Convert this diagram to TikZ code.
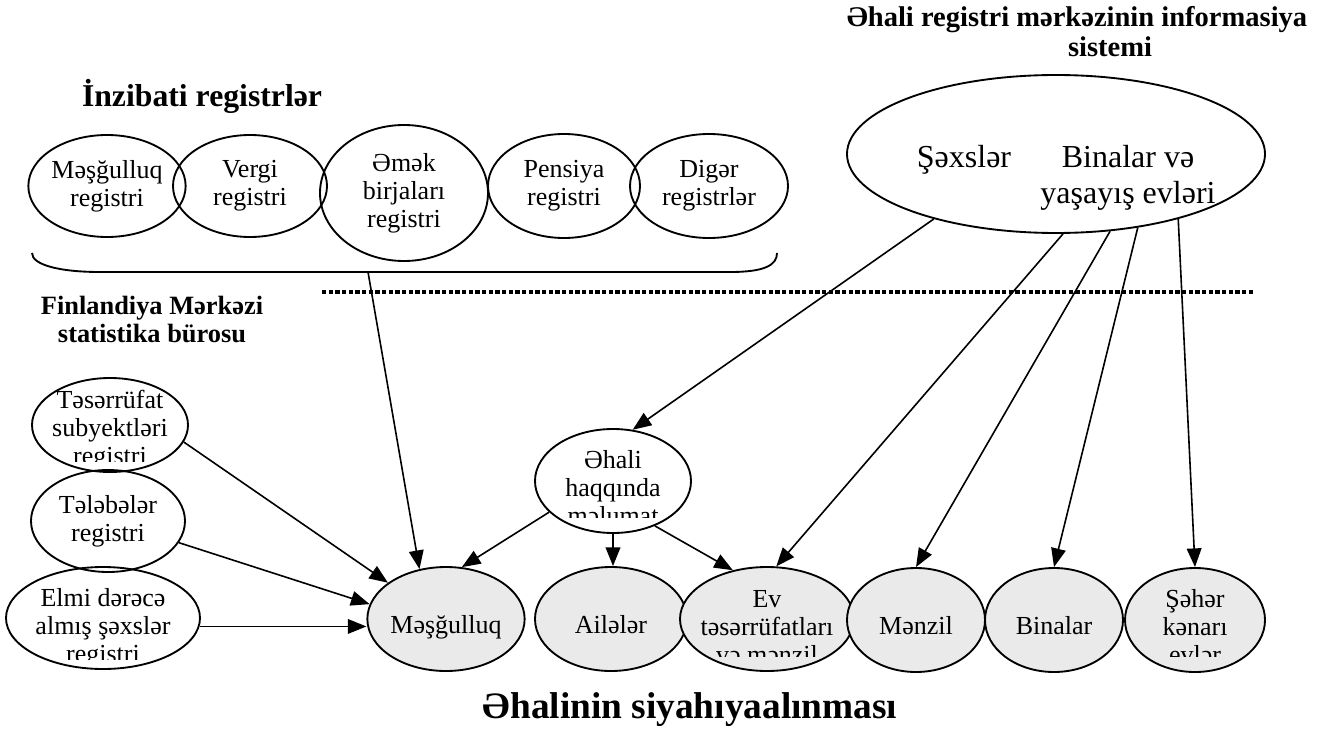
\documentclass[tikz,border=0pt]{standalone}
\usepackage{fontspec}
\setmainfont{Liberation Serif}
\usetikzlibrary{shapes.geometric,arrows.meta}
\definecolor{cengray}{HTML}{EAEAEA}
\newcommand{\regfont}{\fontsize{19.5}{21}\selectfont}
\newcommand{\bigfont}{\fontsize{24}{26.5}\selectfont}
\tikzset{
  reg/.style={draw, ellipse, line width=1.4pt, inner sep=0pt, align=center, font=\regfont},
  cen/.style={reg, fill=cengray},
  lowtext/.style={text height=21pt, text depth=0pt},
  regtext/.style={align=center, font=\regfont, inner sep=0pt},
  arr/.style={-{Triangle[length=14pt,width=11pt]}, line width=1.2pt},
}

\begin{document}
\begin{tikzpicture}[x=0.75pt, y=-0.75pt]
  \useasboundingbox (0,0) rectangle (1341,731);

  % titles
  \node[name=admt, anchor=base, font=\bfseries\fontsize{23.8}{27}\selectfont] at (202,107) {İnzibati registrlər};
  \node[name=armt, anchor=base, font=\bfseries\fontsize{21.4}{24}\selectfont] at (1077,27) {Əhali registri mərkəzinin informasiya};
  \node[name=armt2, anchor=base, font=\bfseries\fontsize{21.4}{24}\selectfont] at (1110,57) {sistemi};
  \node[name=fint, align=center, font=\bfseries\fontsize{19.8}{21}\selectfont] at (152,320) {Finlandiya Mərkəzi\\statistika bürosu};
  \node[name=cent, anchor=base, font=\bfseries\fontsize{28}{32}\selectfont] at (690,718) {Əhalinin siyahıyaalınması};

  % administrative registers
  \node[name=mreg, reg, minimum width=112.5pt, minimum height=76.5pt] at (107,186) {Məşğulluq\\registri};
  \node[name=vreg, reg, minimum width=115.5pt, minimum height=76.5pt] at (250,186) {Vergi\\registri};
  \node[name=emek, reg, minimum width=126pt, minimum height=102pt] at (404,193) {Əmək\\birjaları\\registri};
  \node[name=preg, reg, minimum width=114pt, minimum height=78pt] at (564,186) {Pensiya\\registri};
  \node[name=dreg, reg, minimum width=118.5pt, minimum height=78pt] at (709,186) {Digər\\registrlər};
  \draw[line width=1.4pt] (32,253) .. controls (32,265) and (60,272) .. (100,272) -- (730,272)
    .. controls (765,272) and (777,265) .. (777,253);
  \coordinate (brc) at (368,272);

  \draw[line width=3pt, dash pattern=on 3.2pt off 1.8pt] (322,292) -- (1255,292);

  % population register centre
  \node[name=arm, reg, minimum width=313.5pt, minimum height=118.5pt] at (1056,154) {};
  \node[name=sxs, anchor=base, font=\bigfont] at (964,167) {Şəxslər};
  \node[name=bye, align=center, font=\bigfont, inner sep=0pt] at (1128,178) {Binalar və\\yaşayış evləri};

  % statistics office registers
  \node[name=tsr, reg, minimum width=117pt, minimum height=70.5pt] at (110,425) {};
  \node[name=tlb, reg, minimum width=115.5pt, minimum height=76.5pt] at (108,521) {Tələbələr\\registri};
  \node[name=elm, reg, minimum width=145.5pt, minimum height=76.5pt] at (103,618) {};
  \node[name=ehm, reg, minimum width=117pt, minimum height=78pt] at (613,481) {};

  % census
  \node[name=mesg, cen, lowtext, minimum width=117pt, minimum height=78pt] at (446,619) {Məşğulluq};
  \node[name=ail, cen, lowtext, minimum width=114pt, minimum height=78pt] at (611,619) {Ailələr};
  \node[name=ev, cen, minimum width=130.5pt, minimum height=78pt] at (767,619) {};
  \node[name=menz, cen, lowtext, minimum width=103.5pt, minimum height=78pt] at (916,620) {Mənzil};
  \node[name=bin, cen, lowtext, minimum width=103.5pt, minimum height=78pt] at (1054,620) {Binalar};
  \node[name=seh, cen, minimum width=105pt, minimum height=78pt] at (1195,620) {};

  % texts cut off at the bottom
  \begin{scope}
    \clip (30,370) rectangle (190,461);
    \node[name=tsrt, regtext] at (110,430) {Təsərrüfat\\subyektləri\\registri};
  \end{scope}
  \begin{scope}
    \clip (5,570) rectangle (202,659);
    \node[name=elmt, regtext] at (103,628) {Elmi dərəcə\\almış şəxslər\\registri};
  \end{scope}
  \begin{scope}
    \clip (535,430) rectangle (692,517);
    \node[name=ehmt, regtext] at (613,488) {Əhali\\haqqında\\məlumat};
  \end{scope}
  \begin{scope}
    \clip (680,570) rectangle (855,656);
    \node[name=evt, regtext] at (767,627) {Ev\\təsərrüfatları\\və mənzil};
  \end{scope}
  \begin{scope}
    \clip (1125,570) rectangle (1265,656);
    \node[name=seht, regtext] at (1195,627) {Şəhər\\kənarı\\evlər};
  \end{scope}

  % arrows
  \draw[arr] (brc) -- (mesg.118);
  \draw[arr] (tsr.-13) -- (mesg.148);
  \draw[arr] (tlb.-17) -- (mesg.169);
  \draw[arr] (elm.-5) -- (elm.-5 -| mesg.west);
  \draw[arr] (ehm.206) -- (mesg.73);
  \draw[arr] (ehm.south) -- (ehm.south |- ail.north);
  \draw[arr] (ehm.-47) -- (ev.125);
  \draw[arr] (arm.208) -- (ehm.69);
  \draw[arr] (arm.-85) -- (ev.80);
  \draw[arr] (arm.-55) -- (menz.north);
  \draw[arr] (arm.-42) -- (bin.north);
  \draw[arr] (arm.-28) -- (seh.north);
\end{tikzpicture}
\end{document}
